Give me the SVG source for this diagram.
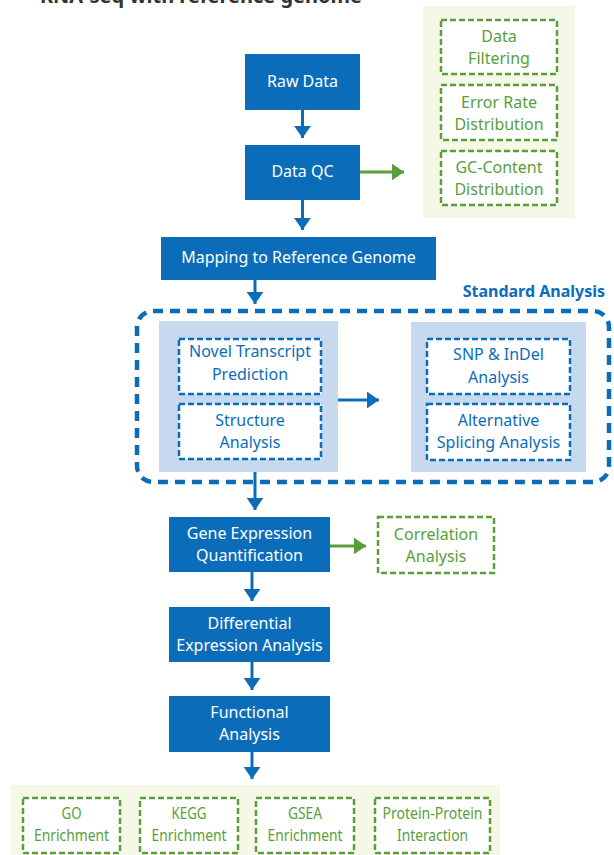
<svg xmlns="http://www.w3.org/2000/svg" width="614" height="855" viewBox="0 0 614 855">
<defs>
<style>
text{font-family:"Noto Sans","Open Sans",sans-serif;font-size:16px;text-anchor:middle}
.blue{fill:#0b6dba}
.wt{fill:#ffffff}
.bt{fill:#0b6dba}
.gt{fill:#5a9e3a}
.gpanel{fill:#f5f8e6}
.bpanel{fill:#c6d9ef}
.gbox{fill:#ffffff;stroke:#5a9e3a;stroke-width:2.5;stroke-dasharray:6 3}
.bbox{fill:#ffffff;stroke:#0b6dba;stroke-width:2.5;stroke-dasharray:6 3}
.bl{stroke:#0b6dba;stroke-width:3;fill:none}
.gl{stroke:#5a9e3a;stroke-width:3;fill:none}
</style>
<marker id="ab" viewBox="0 0 10 14" refX="10" refY="7" markerWidth="4" markerHeight="5.6" orient="auto" markerUnits="strokeWidth"><path d="M0,0L10,7L0,14z" fill="#0b6dba"/></marker>
<marker id="ag" viewBox="0 0 10 14" refX="10" refY="7" markerWidth="4" markerHeight="5.6" orient="auto" markerUnits="strokeWidth"><path d="M0,0L10,7L0,14z" fill="#5a9e3a"/></marker>
</defs>
<rect width="614" height="855" fill="#ffffff"/>
<text x="362" y="3" style="font-size:20px;font-weight:bold;text-anchor:end;fill:#333333">RNA-seq with reference genome</text>

<g id="qc-panel">
<rect class="gpanel" x="423" y="6" width="152" height="212"/>
</g>
<g id="data-filtering"><rect class="gbox" x="441" y="20" width="116" height="54"/><text class="gt" x="499" y="42">Data</text><text class="gt" x="499" y="64">Filtering</text></g>
<g id="error-rate"><rect class="gbox" x="441" y="85" width="116" height="55"/><text class="gt" x="499" y="108">Error Rate</text><text class="gt" x="499" y="130">Distribution</text></g>
<g id="gc-content"><rect class="gbox" x="441" y="151" width="116" height="54"/><text class="gt" x="499" y="173">GC-Content</text><text class="gt" x="499" y="195">Distribution</text></g>

<g id="raw-data"><rect class="blue" x="245" y="54" width="115" height="56"/><text class="wt" x="302.5" y="87">Raw Data</text></g>
<g id="data-qc"><rect class="blue" x="245" y="145" width="115" height="55"/><text class="wt" x="302.5" y="177">Data QC</text></g>
<g id="mapping"><rect class="blue" x="161" y="237" width="275" height="43"/><text class="wt" x="298.5" y="263">Mapping to Reference Genome</text></g>

<g id="standard-analysis">
<text x="605" y="297" style="font-weight:bold;text-anchor:end;fill:#0b6dba">Standard Analysis</text>
<rect x="137" y="311" width="472" height="171" rx="16" fill="none" stroke="#0b6dba" stroke-width="4.5" stroke-dasharray="10 7"/>
<rect class="bpanel" x="159" y="321" width="179" height="151"/>
<rect class="bpanel" x="411" y="322" width="175" height="150"/>
</g>
<g id="novel-transcript"><rect class="bbox" x="179" y="339" width="142" height="55"/><text class="bt" x="250" y="357">Novel Transcript</text><text class="bt" x="250" y="380">Prediction</text></g>
<g id="structure-analysis"><rect class="bbox" x="179" y="404" width="142" height="55"/><text class="bt" x="250" y="426">Structure</text><text class="bt" x="250" y="448">Analysis</text></g>
<g id="snp-indel"><rect class="bbox" x="427" y="339" width="143" height="55"/><text class="bt" x="498.5" y="360">SNP &amp; InDel</text><text class="bt" x="498.5" y="383">Analysis</text></g>
<g id="alt-splicing"><rect class="bbox" x="427" y="404" width="143" height="56"/><text class="bt" x="498.5" y="426">Alternative</text><text class="bt" x="498.5" y="448">Splicing Analysis</text></g>

<g id="gene-expression"><rect class="blue" x="169" y="517" width="161" height="55"/><text class="wt" x="249.5" y="539">Gene Expression</text><text class="wt" x="249.5" y="561">Quantification</text></g>
<g id="correlation"><rect class="gbox" x="378" y="517" width="116" height="56"/><text class="gt" x="436" y="540">Correlation</text><text class="gt" x="436" y="562">Analysis</text></g>
<g id="differential"><rect class="blue" x="169" y="607" width="161" height="55"/><text class="wt" x="249.5" y="629">Differential</text><text class="wt" x="249.5" y="651">Expression Analysis</text></g>
<g id="functional"><rect class="blue" x="169" y="696" width="161" height="56"/><text class="wt" x="249.5" y="718">Functional</text><text class="wt" x="249.5" y="740">Analysis</text></g>

<g id="enrichment-panel"><rect class="gpanel" x="11" y="785" width="489" height="70"/></g>
<g id="go"><rect class="gbox" x="23" y="798" width="97" height="55"/><text class="gt" x="71.5" y="819" textLength="20" lengthAdjust="spacingAndGlyphs">GO</text><text class="gt" x="71.5" y="841" textLength="75" lengthAdjust="spacingAndGlyphs">Enrichment</text></g>
<g id="kegg"><rect class="gbox" x="140" y="798" width="98" height="55"/><text class="gt" x="189" y="819" textLength="35" lengthAdjust="spacingAndGlyphs">KEGG</text><text class="gt" x="189" y="841" textLength="75" lengthAdjust="spacingAndGlyphs">Enrichment</text></g>
<g id="gsea"><rect class="gbox" x="256" y="798" width="98" height="55"/><text class="gt" x="305" y="819" textLength="34" lengthAdjust="spacingAndGlyphs">GSEA</text><text class="gt" x="305" y="841" textLength="75" lengthAdjust="spacingAndGlyphs">Enrichment</text></g>
<g id="ppi"><rect class="gbox" x="375" y="798" width="115" height="55"/><text class="gt" x="432.5" y="819" textLength="100" lengthAdjust="spacingAndGlyphs">Protein-Protein</text><text class="gt" x="432.5" y="841" textLength="71" lengthAdjust="spacingAndGlyphs">Interaction</text></g>

<g id="connectors">
<line class="bl" x1="302.5" y1="110" x2="302.5" y2="138" marker-end="url(#ab)"/>
<line class="gl" x1="360" y1="172" x2="404" y2="172" marker-end="url(#ag)"/>
<line class="bl" x1="302.5" y1="200" x2="302.5" y2="230" marker-end="url(#ab)"/>
<line class="bl" x1="255" y1="280" x2="255" y2="304" marker-end="url(#ab)"/>
<line class="bl" x1="338" y1="400" x2="379" y2="400" marker-end="url(#ab)"/>
<line class="bl" x1="255" y1="472" x2="255" y2="510" marker-end="url(#ab)"/>
<line class="gl" x1="330" y1="546" x2="366" y2="546" marker-end="url(#ag)"/>
<line class="bl" x1="252" y1="572" x2="252" y2="601" marker-end="url(#ab)"/>
<line class="bl" x1="252" y1="662" x2="252" y2="690" marker-end="url(#ab)"/>
<line class="bl" x1="252" y1="752" x2="252" y2="779" marker-end="url(#ab)"/>
</g>
</svg>
